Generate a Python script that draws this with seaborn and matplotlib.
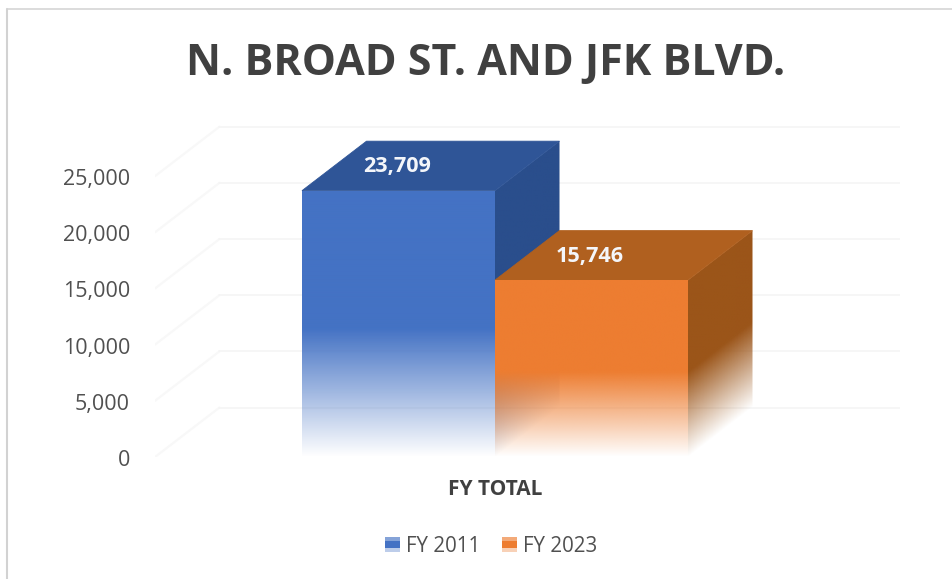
import numpy as np
import pandas as pd
import matplotlib
matplotlib.use("Agg")
import matplotlib.pyplot as plt
from matplotlib.colors import to_rgb
from matplotlib.lines import Line2D
from matplotlib.patches import Polygon, Rectangle
from matplotlib.legend_handler import HandlerBase
from matplotlib.transforms import ScaledTranslation
import seaborn as sns

# ---- data ----
categories = ["FY TOTAL"]
series_names = ["FY 2011", "FY 2023"]
fy2011_values = [23709]
fy2023_values = [15746]
y_ticks = [0, 5000, 10000, 15000, 20000, 25000]
title_text = "N. BROAD ST. AND JFK BLVD."

front_colors = ["#4472C4", "#ED7D31"]
top_colors = ["#2F5597", "#B0601F"]
side_colors = ["#2A4E8C", "#9B5519"]

W, H = 952, 579
sns.set_theme(style="white")
plt.rcParams["font.family"] = ["Open Sans", "DejaVu Sans"]

fig = plt.figure(figsize=(W / 100, H / 100), dpi=100, facecolor="white")
AX_L, AX_R, AX_T, AX_B = 155, 900, 120, 457
ax = fig.add_axes([AX_L / W, (H - AX_B) / H, (AX_R - AX_L) / W, (AX_B - AX_T) / H])

df = pd.DataFrame({
    "category": categories * 2,
    "series": series_names,
    "value": fy2011_values + fy2023_values,
})
sns.barplot(data=df, x="category", y="value", hue="series", palette=front_colors,
            width=0.8, gap=0, saturation=1, legend=False, ax=ax)

# scale: the two bars together are 386 px wide, centred on px 495
px_per_x = 386 / 0.8
x_min = -(495 - AX_L) / px_per_x
x_max = (AX_R - 495) / px_per_x
y_max = 30000
px_per_y = (AX_B - AX_T) / y_max
ax.set_xlim(x_min, x_max)
ax.set_ylim(0, y_max)
depth_x = 64.5 / px_per_x
depth_y = 49.5 / px_per_y
skew = depth_y / depth_x
FADE_FROM = 0.52

# faint 3-D wall grid
for t in y_ticks:
    ax.plot([x_min, x_min + depth_x], [t, t + depth_y],
            color="#f8f8f8", lw=1.6, zorder=0.5, solid_capstyle="round")
    ax.plot([x_min + depth_x, x_max], [t + depth_y, t + depth_y],
            color="#f5f5f5", lw=1.2, zorder=0.5)


def faded_face(verts, color, x_ref, height, slope, z):
    """Fill a polygon with a colour fading to transparent towards its bottom edge."""
    v = np.array(verts)
    x0, x1, y0, y1 = v[:, 0].min(), v[:, 0].max(), v[:, 1].min(), v[:, 1].max()
    nx = max(int((x1 - x0) * px_per_x), 2)
    ny = max(int((y1 - y0) * px_per_y) * 2, 2)
    xs = np.linspace(x0, x1, nx)
    ys = np.linspace(y0, y1, ny)
    gx, gy = np.meshgrid(xs, ys)
    t = (height + (gx - x_ref) * slope - gy) / height
    alpha = np.clip((1 - t) / (1 - FADE_FROM), 0, 1)
    rgba = np.zeros(gx.shape + (4,))
    rgba[..., :3] = to_rgb(color)
    rgba[..., 3] = alpha
    im = ax.imshow(rgba, extent=(x0, x1, y0, y1), origin="lower", aspect="auto",
                   interpolation="bilinear", zorder=z)
    clip = Polygon(v, closed=True, transform=ax.transData)
    im.set_clip_path(clip)


for i, container in enumerate(ax.containers):
    bar = container[0]
    x0, w, h = bar.get_x(), bar.get_width(), bar.get_height()
    x1 = x0 + w
    bar.set_facecolor((0, 0, 0, 0))
    bar.set_edgecolor("none")
    z = 2 + i * 3
    # side face
    faded_face([(x1, 0), (x1 + depth_x, depth_y), (x1 + depth_x, h + depth_y), (x1, h)],
               side_colors[i], x1, h, skew, z)
    # top face
    ax.add_patch(Polygon([(x0, h), (x0 + depth_x, h + depth_y),
                          (x1 + depth_x, h + depth_y), (x1, h)],
                         closed=True, facecolor=top_colors[i], edgecolor=top_colors[i],
                         lw=0.6, zorder=z + 0.5))
    # front face
    faded_face([(x0, 0), (x1, 0), (x1, h), (x0, h)], front_colors[i], x0, h, 0, z + 1)
    # data label on the top face
    ax.text(x0 + w / 2 - 0.003, h + depth_y / 2 - 60, f"{int(h):,}", ha="center", va="center",
            color="#f4f6fa", fontsize=15.6, fontweight="bold", zorder=20)

ax.set_xlim(x_min, x_max)
ax.set_ylim(0, y_max)

# axes cosmetics
sns.despine(ax=ax, left=True, bottom=True, top=True, right=True)
ax.grid(False)
ax.patch.set_alpha(0)
ax.set_xlabel("")
ax.set_ylabel("")
ax.set_yticks(y_ticks)
ax.set_yticklabels([f"{t:,}" for t in y_ticks])
ax.tick_params(axis="y", length=0, pad=18, labelsize=15.5, labelcolor="#505050")
ax.tick_params(axis="x", length=0, pad=15.5, labelsize=15, labelcolor="#404040")
for lab in ax.get_xticklabels():
    lab.set_fontweight("bold")
shift_down = ScaledTranslation(0, -1 / 100, fig.dpi_scale_trans)
for lab in ax.get_yticklabels():
    lab.set_transform(lab.get_transform() + shift_down)

# title
fig.text(486 / W, 1 - 63 / H, title_text, ha="center", va="center",
         fontsize=31, fontweight="bold", color="#404040")


# legend with banded swatches
class BandedHandler(HandlerBase):
    def create_artists(self, legend, orig, xd, yd, width, height, fontsize, trans):
        col = orig.get_facecolor()
        rows = [(0.0, 0.27, 0.65), (0.27, 0.45, 1.0), (0.72, 0.28, 0.35)]
        out = []
        for start, frac, a in rows:
            r = Rectangle((-xd, -yd + (1 - start - frac) * height), width, frac * height,
                          facecolor=col, alpha=a, edgecolor="none", transform=trans)
            out.append(r)
        return out


handles = [Rectangle((0, 0), 1, 1, facecolor=c) for c in front_colors]
fig.legend(handles, series_names, loc="center", bbox_to_anchor=(491 / W, 1 - 546 / H),
           ncol=2, frameon=False, fontsize=14.8, labelcolor="#505050",
           handlelength=0.72, handleheight=0.72, handletextpad=0.3, columnspacing=1.05,
           handler_map={Rectangle: BandedHandler()})

# chart frame (left and top visible)
fig.add_artist(Line2D([7 / W, 7 / W], [0, 1 - 8.5 / H], color="#d2d2d2", lw=1.5))
fig.add_artist(Line2D([6.5 / W, 1], [1 - 8.5 / H, 1 - 8.5 / H], color="#d2d2d2", lw=1.1))

fig.savefig("out.png", dpi=100)
